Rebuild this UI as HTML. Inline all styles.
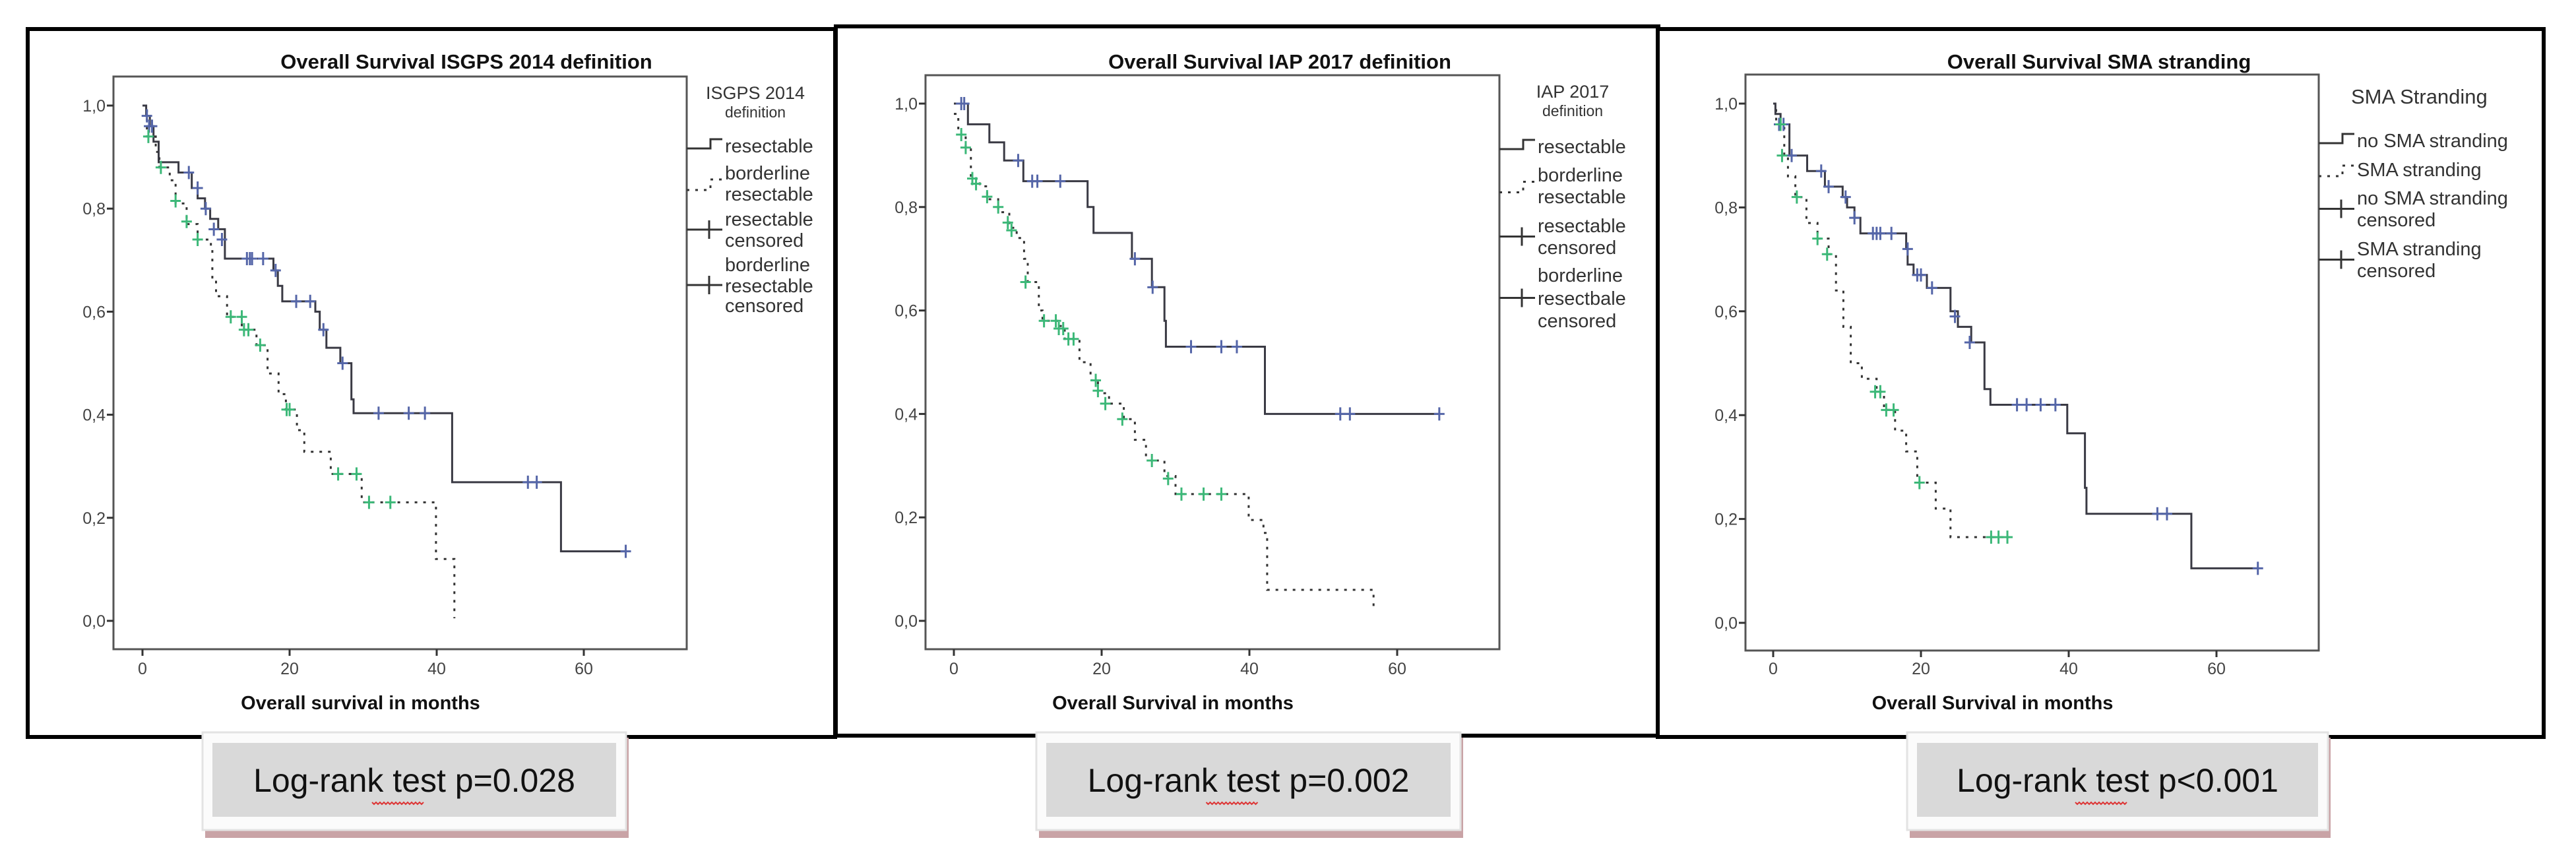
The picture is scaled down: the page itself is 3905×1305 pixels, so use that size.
<!DOCTYPE html>
<html><head><meta charset="utf-8"><style>
html,body{margin:0;padding:0;background:#fff;}
svg{display:block;}
text{font-family:"Liberation Sans",Arial,sans-serif;}
</style></head><body>
<svg id="chart" width="3905" height="1305" viewBox="0 0 3905 1305" xmlns="http://www.w3.org/2000/svg"></svg>
<script>
// ---------- DATA ----------
const xTicks = [0, 20, 40, 60];
const yTicks = [0, 0.2, 0.4, 0.6, 0.8, 1.0];
const yTickLabels = ["0,0", "0,2", "0,4", "0,6", "0,8", "1,0"];
const panelTitles = ["Overall Survival ISGPS 2014 definition", "Overall Survival IAP 2017 definition", "Overall Survival SMA stranding"];
const xTitles = ["Overall survival in months", "Overall Survival in months", "Overall Survival in months"];
const pValues = ["Log-rank test p=0.028", "Log-rank test p=0.002", "Log-rank test p<0.001"];

// Panel 1
const p1SolidT = [0, 0.5, 1, 1.5, 2.2, 4.9, 6.7, 7.5, 8.5, 9.2, 10.3, 11.2, 17.8, 18.4, 19, 23.5, 24.1, 25, 26.9, 28.4, 28.7, 42.1, 56.9, 65.7];
const p1SolidS = [1.0, 0.98, 0.96, 0.93, 0.89, 0.87, 0.84, 0.82, 0.80, 0.78, 0.76, 0.703, 0.68, 0.65, 0.62, 0.60, 0.565, 0.53, 0.50, 0.43, 0.403, 0.269, 0.135, 0.135];
const p1DotT = [0, 0.6, 1.8, 2.3, 3.7, 4.5, 6, 7.5, 9.3, 9.5, 10, 11.5, 13.5, 15.5, 17, 18.5, 19.5, 21, 22, 25.6, 29.8, 39.9, 42.4, 42.4];
const p1DotS = [1.0, 0.94, 0.91, 0.88, 0.855, 0.81, 0.77, 0.74, 0.72, 0.66, 0.63, 0.59, 0.565, 0.535, 0.48, 0.44, 0.41, 0.37, 0.328, 0.285, 0.23, 0.12, 0.005, 0.005];
const p1CensBlueT = [0.6, 0.9, 1.3, 6.3, 7.5, 8.6, 9.7, 10.8, 14.2, 14.6, 14.9, 16.4, 18.1, 20.9, 22.8, 24.6, 27.2, 32.1, 36.2, 38.4, 52.4, 53.6, 65.7];
const p1CensBlueS = [0.98, 0.96, 0.96, 0.87, 0.84, 0.80, 0.76, 0.74, 0.703, 0.703, 0.703, 0.703, 0.68, 0.62, 0.62, 0.565, 0.50, 0.403, 0.403, 0.403, 0.269, 0.269, 0.135];
const p1CensGreenT = [0.8, 2.5, 4.5, 6, 7.5, 12, 13.5, 13.8, 14.4, 16, 19.6, 20, 26.6, 29.1, 30.8, 33.7];
const p1CensGreenS = [0.94, 0.88, 0.815, 0.775, 0.74, 0.59, 0.59, 0.565, 0.565, 0.535, 0.41, 0.41, 0.285, 0.285, 0.23, 0.23];

// Panel 2
const p2SolidT = [0, 1.9, 4.8, 6.8, 9.4, 18.1, 18.9, 24.1, 26.8, 28.5, 28.7, 42.1, 65.7];
const p2SolidS = [1.0, 0.96, 0.925, 0.89, 0.85, 0.80, 0.75, 0.70, 0.645, 0.58, 0.53, 0.40, 0.40];
const p2DotT = [0, 0.6, 1.6, 2.3, 3.5, 4.5, 6, 7.5, 8.5, 9.5, 10, 11.5, 12, 14, 15, 17, 18.5, 19.5, 21, 23, 24.5, 26, 28.5, 30, 39.9, 41.9, 42.4, 56.8, 56.8];
const p2DotS = [0.98, 0.94, 0.915, 0.855, 0.84, 0.815, 0.79, 0.76, 0.74, 0.70, 0.655, 0.60, 0.58, 0.57, 0.545, 0.50, 0.465, 0.44, 0.42, 0.39, 0.35, 0.31, 0.28, 0.245, 0.195, 0.17, 0.06, 0.02, 0.02];
const p2CensBlueT = [1.0, 1.4, 8.7, 10.6, 11.3, 14.4, 24.5, 26.9, 32.1, 36.2, 38.3, 52.3, 53.6, 65.7];
const p2CensBlueS = [1.0, 1.0, 0.89, 0.85, 0.85, 0.85, 0.70, 0.645, 0.53, 0.53, 0.53, 0.40, 0.40, 0.40];
const p2CensGreenT = [1.0, 1.6, 2.5, 3, 4.5, 6, 7.3, 7.8, 9.7, 12.2, 13.8, 14.2, 14.8, 15.5, 16.2, 19.2, 19.5, 20.5, 22.8, 26.8, 29, 30.8, 33.8, 36.2];
const p2CensGreenS = [0.94, 0.915, 0.855, 0.845, 0.82, 0.80, 0.77, 0.755, 0.655, 0.58, 0.58, 0.565, 0.565, 0.545, 0.545, 0.465, 0.445, 0.42, 0.39, 0.31, 0.275, 0.245, 0.245, 0.245];

// Panel 3
const p3SolidT = [0, 0.3, 1, 2.2, 4.6, 7, 9.4, 10, 11, 11.8, 18, 18.2, 19, 20.8, 24, 25, 26.8, 28.6, 29.4, 39.8, 42.2, 42.4, 56.6, 65.6];
const p3SolidS = [1.0, 0.98, 0.96, 0.90, 0.87, 0.84, 0.82, 0.80, 0.78, 0.75, 0.72, 0.69, 0.67, 0.645, 0.60, 0.57, 0.54, 0.45, 0.42, 0.365, 0.26, 0.21, 0.105, 0.105];
const p3DotT = [0, 0.4, 1.5, 2, 3, 4.5, 6, 7.5, 8.5, 9.5, 10.5, 12, 14, 15, 16.5, 18, 19.5, 22, 24, 32];
const p3DotS = [1.0, 0.96, 0.90, 0.86, 0.82, 0.77, 0.74, 0.71, 0.64, 0.57, 0.50, 0.47, 0.445, 0.41, 0.37, 0.33, 0.27, 0.22, 0.165, 0.165];
const p3CensBlueT = [0.8, 1.4, 2.5, 6.5, 7.5, 9.8, 11, 13.5, 14, 14.5, 16, 18.2, 19.5, 20, 21.5, 24.6, 26.6, 33, 34.3, 36.2, 38.2, 52, 53.3, 65.6];
const p3CensBlueS = [0.96, 0.96, 0.90, 0.87, 0.84, 0.82, 0.78, 0.75, 0.75, 0.75, 0.75, 0.72, 0.67, 0.67, 0.645, 0.59, 0.54, 0.42, 0.42, 0.42, 0.42, 0.21, 0.21, 0.105];
const p3CensGreenT = [1, 1.2, 3.2, 6, 7.3, 13.8, 14.5, 15.3, 16.3, 19.8, 29.5, 30.5, 31.7];
const p3CensGreenS = [0.96, 0.90, 0.82, 0.74, 0.71, 0.445, 0.445, 0.41, 0.41, 0.27, 0.165, 0.165, 0.165];

const legendTitles = [["ISGPS 2014", "definition"], ["IAP 2017", "definition"], ["SMA Stranding"]];
const legendLabels = [
  [["resectable"], ["borderline", "resectable"], ["resectable", "censored"], ["borderline", "resectable", "censored"]],
  [["resectable"], ["borderline", "resectable"], ["resectable", "censored"], ["borderline", "resectbale", "censored"]],
  [["no SMA stranding"], ["SMA stranding"], ["no SMA stranding", "censored"], ["SMA stranding", "censored"]]
];

// ---------- LAYOUT ----------
const NS = "http://www.w3.org/2000/svg";
const svg = document.getElementById("chart");
function mk(tag, attrs, parent) {
  const e = document.createElementNS(NS, tag);
  for (const k in attrs) e.setAttribute(k, attrs[k]);
  (parent || svg).appendChild(e);
  return e;
}
const layouts = [
  {bx: 42, by: 44, bw: 1224, bh: 1073, fx: 172, fy: 116, fw: 869, fh: 868, x0: 216, pxm: 11.15, y1: 160, y0: 941, tcx: 707,
   legSymX: 1041, legTxtX: 1099, legTitleX: 1145, legTitleY: [150, 178], legTitleSize: [27, 23],
   rows: [[221], [262, 294], [332, 364], [401, 433, 463]], lrx: 307, lrw: 642},
  {bx: 1267, by: 40, bw: 1247, bh: 1075, fx: 1403, fy: 114, fw: 870, fh: 870, x0: 1446, pxm: 11.2, y1: 157, y0: 941, tcx: 1940,
   legSymX: 2273, legTxtX: 2331, legTitleX: 2384, legTitleY: [148, 176], legTitleSize: [27, 23],
   rows: [[222], [265, 298], [342, 375], [417, 452, 486]], lrx: 1571, lrw: 643},
  {bx: 2513, by: 44, bw: 1343, bh: 1073, fx: 2646, fy: 113, fw: 869, fh: 873, x0: 2688, pxm: 11.2, y1: 157, y0: 944, tcx: 3182,
   legSymX: 3515, legTxtX: 3573, legTitleX: 3564, legTitleY: [157], legTitleSize: [31],
   rows: [[213], [257], [300, 333], [377, 410]], lrx: 2891, lrw: 638}
];
const data = [
  [p1SolidT, p1SolidS, p1DotT, p1DotS, p1CensBlueT, p1CensBlueS, p1CensGreenT, p1CensGreenS],
  [p2SolidT, p2SolidS, p2DotT, p2DotS, p2CensBlueT, p2CensBlueS, p2CensGreenT, p2CensGreenS],
  [p3SolidT, p3SolidS, p3DotT, p3DotS, p3CensBlueT, p3CensBlueS, p3CensGreenT, p3CensGreenS]
];

function stepPath(T, S, xs, ys) {
  let d = "M" + xs(T[0]) + " " + ys(S[0]);
  for (let i = 1; i < T.length; i++) {
    d += " H" + xs(T[i]).toFixed(1) + " V" + ys(S[i]).toFixed(1);
  }
  return d;
}

layouts.forEach((L, p) => {
  const xs = t => L.x0 + t * L.pxm;
  const ys = v => L.y0 - v * (L.y0 - L.y1);
  const g = mk("g", {});
  
  

  const border = mk("rect", {x: L.bx, y: L.by, width: L.bw, height: L.bh, fill: "#fff", stroke: "#000", "stroke-width": 6}, g);
  
  

  const title = mk("text", {x: L.tcx, y: 104, "text-anchor": "middle", "font-size": 31, "font-weight": "bold", fill: "#111"}, g);
  title.textContent = panelTitles[p];
  
  

  const frame = mk("rect", {x: L.fx, y: L.fy, width: L.fw, height: L.fh, fill: "none", stroke: "#555", "stroke-width": 3}, g);
  
  

  yTicks.forEach((v, i) => {
    const tk = mk("line", {x1: L.fx - 10, x2: L.fx, y1: ys(v), y2: ys(v), stroke: "#333", "stroke-width": 3}, g);
    
    
    const lb = mk("text", {x: L.fx - 12, y: ys(v) + 9, "text-anchor": "end", "font-size": 25, fill: "#444"}, g);
    lb.textContent = yTickLabels[i];
    
    
  });
  xTicks.forEach(t => {
    const yb = L.fy + L.fh;
    const tk = mk("line", {x1: xs(t), x2: xs(t), y1: yb, y2: yb + 10, stroke: "#333", "stroke-width": 3}, g);
    
    
    const lb = mk("text", {x: xs(t), y: 1022, "text-anchor": "middle", "font-size": 25, fill: "#444"}, g);
    lb.textContent = String(t);
    
    
  });
  const xt = mk("text", {x: L.fx + L.fw / 2 - 60, y: 1075, "text-anchor": "middle", "font-size": 29, "font-weight": "bold", fill: "#111"}, g);
  xt.textContent = xTitles[p];
  
  

  const D = data[p];
  const dot = mk("path", {d: stepPath(D[2], D[3], xs, ys), fill: "none", stroke: "#333", "stroke-width": 3, "stroke-dasharray": "4 9"}, g);
  
  
  const sol = mk("path", {d: stepPath(D[0], D[1], xs, ys), fill: "none", stroke: "#3a3a44", "stroke-width": 3}, g);
  
  

  function cens(T, S, col, name) {
    for (let i = 0; i < T.length; i++) {
      const cx = xs(T[i]), cy = ys(S[i]);
      const c = mk("path", {d: `M${cx - 8} ${cy} H${cx + 8} M${cx} ${cy - 10} V${cy + 10}`, stroke: col, "stroke-width": 3, fill: "none"}, g);
      
      
    }
  }
  cens(D[4], D[5], "#5566a8", 'censor-mark-blue');
  cens(D[6], D[7], "#3cb878", 'censor-mark-green');

  // legend
  legendTitles[p].forEach((s, i) => {
    const t = mk("text", {x: L.legTitleX, y: L.legTitleY[i], "text-anchor": p === 2 ? "start" : "middle", "font-size": L.legTitleSize[i], fill: "#333"}, g);
    t.textContent = s;
    
    
  });
  legendLabels[p].forEach((lines, k) => {
    const rows = L.rows[k];
    lines.forEach((s, j) => {
      const t = mk("text", {x: L.legTxtX, y: rows[j] + 10, "font-size": 29, fill: "#333"}, g);
      t.textContent = s;
      
      
    });
    const mid = (rows[0] + rows[rows.length - 1]) / 2;
    const sx = L.legSymX, ex = L.legTxtX - 4;
    let d;
    if (k === 0) d = `M${sx} ${mid + 4} H${sx + 36} V${mid - 10} H${ex}`;
    else if (k === 1) d = `M${sx} ${mid + 10} H${sx + 36} V${mid - 6} H${ex}`;
    else d = `M${sx} ${mid} H${ex} M${sx + 34} ${mid - 14} V${mid + 14}`;
    const sym = mk("path", {d: d, stroke: "#333", "stroke-width": 3, fill: "none", "stroke-dasharray": k === 1 ? "4 9" : "none"}, g);
    
    
  });

  // log-rank box
  const lb = mk("g", {}, g);
  
  
  mk("rect", {x: L.lrx + 4, y: 1118, width: L.lrw, height: 152, fill: "#c9a3a6"}, lb);
  mk("rect", {x: L.lrx, y: 1110, width: L.lrw, height: 148, fill: "#fbfbfb", stroke: "#e3e3e3", "stroke-width": 3}, lb);
  mk("rect", {x: L.lrx + 15, y: 1126, width: L.lrw - 30, height: 112, fill: "#d9d9d9"}, lb);
  const lt = mk("text", {x: L.lrx + L.lrw / 2, y: 1200, "text-anchor": "middle", "font-size": 50, fill: "#111"}, lb);
  lt.textContent = pValues[p];
  
  
  const cx = L.lrx + L.lrw / 2 - 24;
  let w = "M" + (cx - 40) + " 1216";
  for (let i = 0; i < 16; i++) w += " l3 " + (i % 2 ? -3 : 3) + "";
  for (let i = 0; i < 10; i++) w += " l3 " + (i % 2 ? -3 : 3);
  const wv = mk("path", {d: w, stroke: "#d33", "stroke-width": 2, fill: "none"}, lb);
  
  
});
</script>
</body></html>
